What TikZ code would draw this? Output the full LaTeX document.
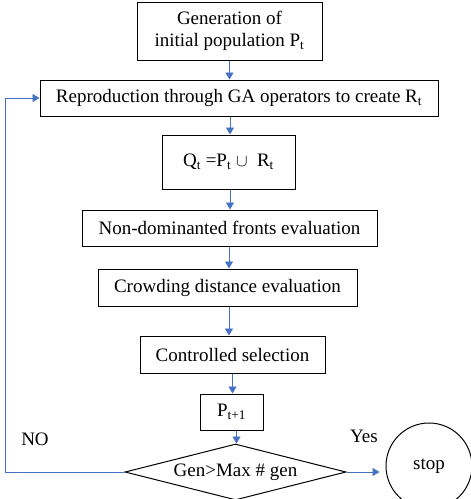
\documentclass[tikz,border=0pt]{standalone}
\usepackage{fontspec}
\setmainfont{Liberation Serif}
\usetikzlibrary{shapes.geometric,arrows.meta}
\definecolor{flowblue}{RGB}{68,114,196}
\tikzset{
  box/.style={draw=black,line width=1pt,inner sep=0pt,align=center,font=\fontsize{19}{22}\selectfont},
  flow/.style={draw=flowblue,line width=0.9pt,-{Triangle[width=8pt,length=7pt]}},
  lbl/.style={font=\fontsize{19}{22}\selectfont,inner sep=0pt}
}
\begin{document}
\begin{tikzpicture}[x=1pt,y=-1pt]
\useasboundingbox (0,0) rectangle (471,499);
\clip (0,0) rectangle (471,499);
\node[box,minimum width=185pt,minimum height=58pt] (b1) at (229.5,31) {Generation of\\initial population P\textsubscript{t}};
\node[box,minimum width=398pt,minimum height=36pt] (b2) at (239,98) {Reproduction through GA operators to create R\textsubscript{t}};
\node[box,minimum width=133pt,minimum height=54pt] (b3) at (228.5,162) {Q\textsubscript{t} =P\textsubscript{t} $\cup$\ \ R\textsubscript{t}};
\node[box,minimum width=295pt,minimum height=36pt] (b4) at (229.5,228) {Non-dominanted fronts evaluation};
\node[box,minimum width=259pt,minimum height=37pt] (b5) at (227.5,287.5) {Crowding distance evaluation};
\node[box,minimum width=185pt,minimum height=37pt] (b6) at (232.5,354.5) {Controlled selection};
\node[box,minimum width=63pt,minimum height=36pt] (b7) at (231.5,412) {P\textsubscript{t+1}};
\node[box,shape=diamond,aspect=3.95,minimum width=221pt,minimum height=56pt] (dia) at (235.5,472) {Gen>Max \# gen};
\node[box,shape=circle,minimum size=86pt] (stop) at (429,466) {stop};
\node[lbl] (no) at (35,439) {NO};
\node[lbl] (yes) at (364,436) {Yes};
\coordinate (corner) at (5,472);
\draw[flow] (b1.south) -- (b1.south |- b2.north);
\draw[flow] ([xshift=-9pt]b2.south) -- ([xshift=-9pt]b2.south |- b3.north);
\draw[flow] ([xshift=1.5pt]b3.south) -- ([xshift=1.5pt]b3.south |- b4.north);
\draw[flow] ([xshift=-0.5pt]b4.south) -- ([xshift=-0.5pt]b4.south |- b5.north);
\draw[flow] ([xshift=1.5pt]b5.south) -- ([xshift=1.5pt]b5.south |- b6.north);
\draw[flow] (b6.south) -- (b6.south |- b7.north);
\draw[flow] ([xshift=5pt]b7.south) -- ([xshift=5pt]b7.south |- dia.north);
\draw[flow,shorten >=6pt] (dia.east) -- (stop.west |- dia.east);
\draw[flow] (dia.west) -- (corner) |- (b2.west);
\end{tikzpicture}
\end{document}
